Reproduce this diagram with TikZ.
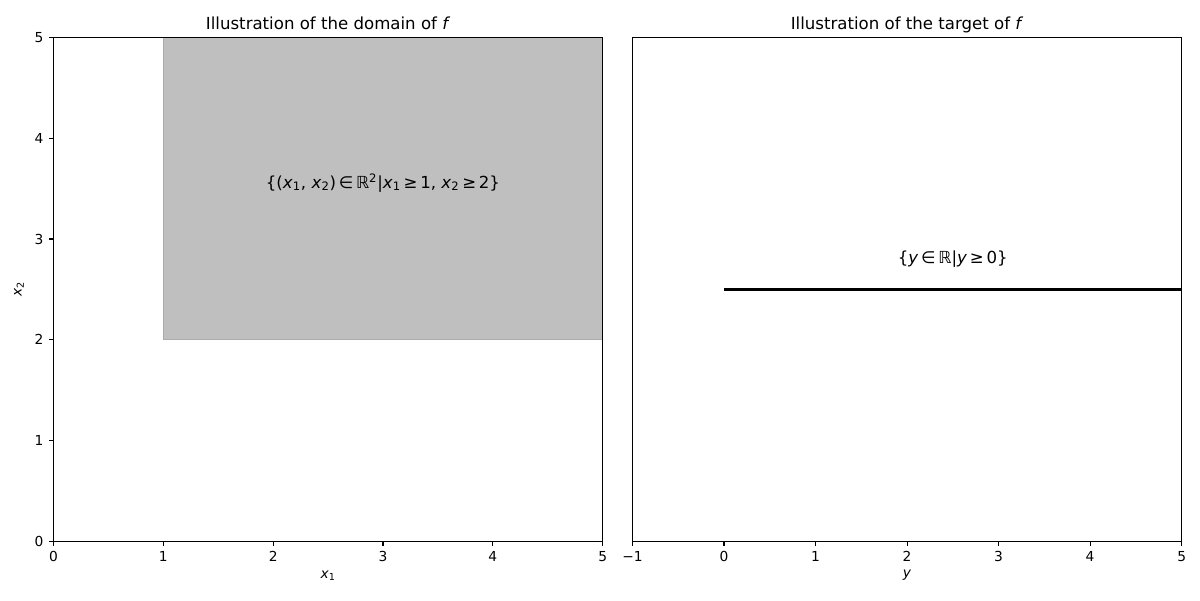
\documentclass[tikz,border=0pt]{standalone}
\usepackage{fontspec}
\setmainfont{DejaVu Sans}
\usepackage{tikz}
\usetikzlibrary{positioning}
\definecolor{RegionGray}{RGB}{191, 191, 191}
\definecolor{RegionEdge}{RGB}{172, 172, 172}
\newcommand{\vx}[1]{\textit{x}\textsubscript{#1}}

\begin{document}
\begin{tikzpicture}[
    x=0.025cm, y=0.025cm,
    spine/.style={draw=black, line width=0.78pt},
    tickmark/.style={black, line width=0.78pt},
    ticklab/.style={font=\fontsize{9.8}{11.8}\selectfont, inner sep=0pt},
    axlab/.style={font=\fontsize{9.8}{11.8}\selectfont, inner sep=0pt},
    ttl/.style={font=\fontsize{11.8}{14}\selectfont, inner sep=0pt, anchor=base},
    setlab/.style={font=\fontsize{11.8}{14}\selectfont, inner sep=0pt}
  ]
    \useasboundingbox (0,0) rectangle (1200,600);

    % Domain (links)
    \begin{scope}[shift={(53.5,58.5)}, x=2.745cm, y=2.52cm]
      \fill[RegionGray] (1,2) rectangle (5,5);
      \draw[RegionEdge, line width=0.7pt] (1,2) rectangle (5,5);
      \draw[spine] (0,0) rectangle (5,5);
      \foreach \t in {0,...,5} {
        \draw[tickmark] (\t,0) -- ++(0,-0.1215cm);
        \node[ticklab, anchor=north, yshift=-0.243cm] (dx\t) at (\t,0) {\t};
        \draw[tickmark] (0,\t) -- ++(-0.1215cm,0);
        \node[ticklab, anchor=east, xshift=-0.243cm] (dy\t) at (0,\t) {\t};
      }
      \node[axlab] (xlab) at (2.5,-0.337) {\vx{1}};
      \node[axlab, rotate=90] (ylab) at (-0.314,2.5) {\vx{2}};
      \node[ttl] (dtitle) at (2.5,5.082) {Illustration of the domain of \textit{f}};
      \node[setlab] (dset) at (3,3.558)
        {\{(\vx{1}, \vx{2})\,∈\,ℝ\textsuperscript{2}|\vx{1}\,≥\,1, \vx{2}\,≥\,2\}};
    \end{scope}

    % Target (rechts)
    \begin{scope}[shift={(724,310.5)}, x=2.2875cm, y=6.3cm]
      \draw[spine] (-1,-1) rectangle (5,1);
      \coordinate (lstart) at (0,0);
      \coordinate (lend) at (5,0);
      \draw[black, line width=1.97pt] (lstart) -- (lend);
      \foreach \t/\s in {-1/−1, 0/0, 1/1, 2/2, 3/3, 4/4, 5/5} {
        \draw[tickmark] (\t,-1) -- ++(0,-0.1215cm);
        \node[ticklab, anchor=north, yshift=-0.243cm] (tx\t) at (\t,-1) {\s};
      }
      \node[axlab] (tlab) at (2,-1.135) {\textit{y}};
      \node[ttl] (ttitle) at (2,1.033) {Illustration of the target of \textit{f}};
      \node[setlab] (tset) at (2.5,0.122) {\{\textit{y}\,∈\,ℝ|\textit{y}\,≥\,0\}};
    \end{scope}
  \end{tikzpicture}
\end{document}
